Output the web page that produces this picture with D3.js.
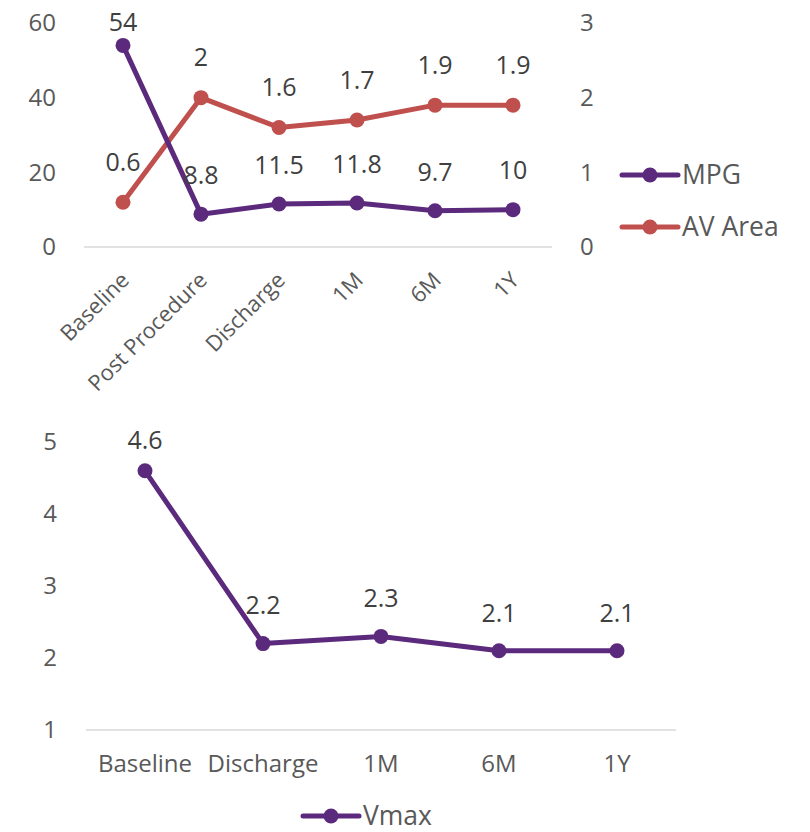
<!DOCTYPE html>
<html>
<head>
<meta charset="utf-8">
<script src="https://cdn.jsdelivr.net/npm/d3@7"></script>
<style>
  body { margin: 0; background: #ffffff; }
  svg text { font-family: "Segoe UI", "Open Sans", "Noto Sans", sans-serif; }
</style>
</head>
<body>
<svg id="chart" width="810" height="832"></svg>
<script>
// Top panel: MPG (left axis) and AV Area (right axis)
const topCategories = ["Baseline", "Post Procedure", "Discharge", "1M", "6M", "1Y"];
const mpgValues = [54, 8.8, 11.5, 11.8, 9.7, 10];
const avAreaValues = [0.6, 2, 1.6, 1.7, 1.9, 1.9];
const mpgTicks = [0, 20, 40, 60];
const avAreaTicks = [0, 1, 2, 3];

// Bottom panel: Vmax
const bottomCategories = ["Baseline", "Discharge", "1M", "6M", "1Y"];
const vmaxValues = [4.6, 2.2, 2.3, 2.1, 2.1];
const vmaxTicks = [1, 2, 3, 4, 5];

const PURPLE = "#5c2a7c";
const RED = "#c0504d";
const AXIS_TEXT = "#595959";
const LABEL_TEXT = "#404040";
const GRID = "#d9d9d9";
const FS = 24;          // axis tick labels
const LABEL_FS = 25;    // point value labels
const LEGEND_FS = 26.5; // legend entries
const intFmt = d3.format("d");

const svg = d3.select("#chart");

function styleAxis(g) {
  g.select(".domain").remove();
  g.selectAll("text").attr("fill", AXIS_TEXT).style("font-size", FS + "px");
}

function drawSeries(g, cats, values, x, y, color, labelTop, offset) {
  const cx = d => x(d) + x.bandwidth() / 2;
  const pts = cats.map((c, i) => [cx(c), y(values[i]), values[i]]);
  g.append("path")
    .datum(pts)
    .attr("fill", "none")
    .attr("stroke", color)
    .attr("stroke-width", 5)
    .attr("stroke-linejoin", "round")
    .attr("stroke-linecap", "round")
    .attr("d", d3.line().x(p => p[0]).y(p => p[1]));
  g.selectAll(null).data(pts).enter().append("circle")
    .attr("cx", p => p[0]).attr("cy", p => p[1]).attr("r", 7.5)
    .attr("fill", color);
  g.selectAll(null).data(pts).enter().append("text")
    .attr("x", p => p[0])
    .attr("y", p => Math.max(p[1] - offset, labelTop))
    .attr("dy", "0.35em")
    .attr("text-anchor", "middle")
    .attr("fill", LABEL_TEXT)
    .style("font-size", LABEL_FS + "px")
    .text(p => p[2]);
}

function legendItem(g, x0, y0, color, label) {
  g.append("line").attr("x1", x0).attr("x2", x0 + 56).attr("y1", y0).attr("y2", y0)
    .attr("stroke", color).attr("stroke-width", 5).attr("stroke-linecap", "round");
  g.append("circle").attr("cx", x0 + 28).attr("cy", y0).attr("r", 7.5).attr("fill", color);
  g.append("text").attr("x", x0 + 60).attr("y", y0).attr("dy", "0.35em")
    .attr("fill", AXIS_TEXT).style("font-size", LEGEND_FS + "px").text(label);
}

// ---------- Top panel ----------
const xTop = d3.scaleBand().domain(topCategories).range([84, 552]);
const yMpg = d3.scaleLinear().domain([0, 60]).range([247, 23]);
const yAv = d3.scaleLinear().domain([0, 3]).range([247, 23]);

const topPanel = svg.append("g");
topPanel.append("line")
  .attr("x1", xTop.range()[0]).attr("x2", xTop.range()[1])
  .attr("y1", yMpg(0)).attr("y2", yMpg(0))
  .attr("stroke", GRID).attr("stroke-width", 1.5);

topPanel.append("g").attr("transform", "translate(56,0)")
  .call(d3.axisLeft(yMpg).tickValues(mpgTicks).tickFormat(intFmt).tickSize(0).tickPadding(0))
  .call(styleAxis);

topPanel.append("g").attr("transform", "translate(580,0)")
  .call(d3.axisRight(yAv).tickValues(avAreaTicks).tickFormat(intFmt).tickSize(0).tickPadding(0))
  .call(styleAxis);

topPanel.append("g").attr("transform", `translate(0,${yMpg(0)})`)
  .call(d3.axisBottom(xTop).tickSize(0))
  .call(styleAxis)
  .call(g => g.selectAll(".tick text")
    .attr("x", 0).attr("y", 0).attr("dy", "0.35em")
    .attr("text-anchor", "end")
    .attr("transform", "translate(2,29) rotate(-45)")
    .style("font-size", "22px"));

drawSeries(topPanel, topCategories, avAreaValues, xTop, yAv, RED, 22, 40);
drawSeries(topPanel, topCategories, mpgValues, xTop, yMpg, PURPLE, 22, 39);

legendItem(topPanel, 622, 175, PURPLE, "MPG");
legendItem(topPanel, 622, 227, RED, "AV Area");

// ---------- Bottom panel ----------
const xBot = d3.scaleBand().domain(bottomCategories).range([86, 676]);
const yVmax = d3.scaleLinear().domain([1, 5]).range([730, 442]);

const bottomPanel = svg.append("g");
bottomPanel.append("line")
  .attr("x1", xBot.range()[0]).attr("x2", xBot.range()[1])
  .attr("y1", yVmax(1)).attr("y2", yVmax(1))
  .attr("stroke", GRID).attr("stroke-width", 1.5);

bottomPanel.append("g").attr("transform", "translate(57,0)")
  .call(d3.axisLeft(yVmax).tickValues(vmaxTicks).tickFormat(intFmt).tickSize(0).tickPadding(0))
  .call(styleAxis);

bottomPanel.append("g").attr("transform", `translate(0,${yVmax(1)})`)
  .call(d3.axisBottom(xBot).tickSize(0))
  .call(styleAxis)
  .call(g => g.selectAll(".tick text").attr("y", 34).attr("dy", "0.35em"));

drawSeries(bottomPanel, bottomCategories, vmaxValues, xBot, yVmax, PURPLE, 440, 38);

legendItem(bottomPanel, 303, 816, PURPLE, "Vmax");
</script>
</body>
</html>
